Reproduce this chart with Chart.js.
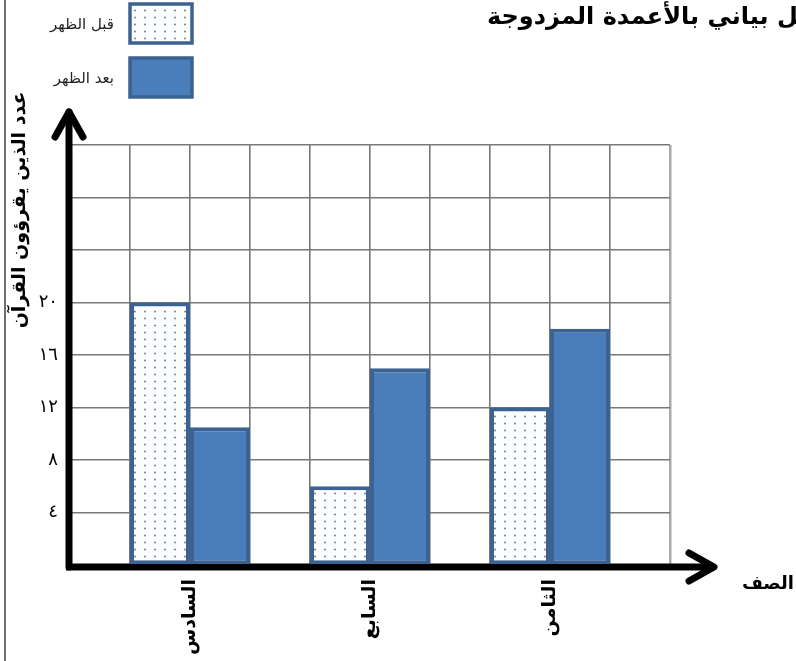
<!DOCTYPE html>
<html lang="ar">
<head>
<meta charset="utf-8">
<title>تمثيل بياني بالأعمدة المزدوجة</title>
<script src="https://cdn.jsdelivr.net/npm/chart.js@4/dist/chart.umd.min.js"></script>
<style>
  html, body { margin: 0; padding: 0; background: #ffffff; }
  #wrap { width: 796px; height: 661px; position: relative; overflow: hidden; }
  canvas { display: block; }
</style>
</head>
<body>
<div id="wrap"><canvas id="chart" width="796" height="661"></canvas></div>
<script>
// Grades (classes) and the number of pupils reading the Quran in each period
const categories = ['السادس', 'السابع', 'الثامن'];
const beforeNoon = [20, 6, 12];
const afterNoon = [10.5, 15, 18];
const seriesNames = ['قبل الظهر', 'بعد الظهر'];

// Y tick labels in Arabic-Indic digits
const yTickValues = [4, 8, 12, 16, 20];
const yTickLabels = ['٤', '٨', '١٢', '١٦', '٢٠'];

const titleText = 'تمثيل بياني بالأعمدة المزدوجة';
const yTitleText = 'عدد الذين يقرؤون القرآن';
const xTitleText = 'الصف';

// Each grade occupies three grid columns, centred on columns 2, 5, 8
const SLOT_FIRST = 2;
const SLOT_STEP = 3;
const slotOf = i => SLOT_FIRST + SLOT_STEP * i;

const FONT = '"DejaVu Sans", "Liberation Sans", Arial, sans-serif';
const BAR_FILL = '#4a7ebb';
const BAR_EDGE = '#3b6291';

// Dotted fill for the "before noon" bars
function dotPattern() {
  const tile = document.createElement('canvas');
  tile.width = 10; tile.height = 7;
  const t = tile.getContext('2d');
  t.fillStyle = '#fbfdff';
  t.fillRect(0, 0, 10, 7);
  t.fillStyle = '#8c8c8c';
  t.beginPath();
  t.arc(5, 3.5, 1.1, 0, Math.PI * 2);
  t.fill();
  return document.getElementById('chart').getContext('2d').createPattern(tile, 'repeat');
}

// Axis lines with arrow heads, drawn under the bars
const axisArrows = {
  id: 'axisArrows',
  beforeDatasetsDraw(chart) {
    const { ctx, chartArea: a } = chart;
    const x0 = a.left - 1;
    const y0 = a.bottom + 2;
    ctx.save();
    ctx.strokeStyle = '#000';
    ctx.lineWidth = 7;
    ctx.lineCap = 'round';
    ctx.lineJoin = 'round';
    // vertical axis
    const yTip = a.top - 33;
    ctx.beginPath();
    ctx.moveTo(x0, y0);
    ctx.lineTo(x0, yTip);
    ctx.stroke();
    ctx.beginPath();
    ctx.moveTo(x0 - 14, yTip + 25);
    ctx.lineTo(x0, yTip);
    ctx.lineTo(x0 + 14, yTip + 25);
    ctx.stroke();
    // horizontal axis
    const xTip = a.right + 44;
    ctx.lineCap = 'butt';
    ctx.beginPath();
    ctx.moveTo(x0 - 3, y0);
    ctx.lineTo(xTip, y0);
    ctx.stroke();
    ctx.lineCap = 'round';
    ctx.beginPath();
    ctx.moveTo(xTip - 25, y0 - 14);
    ctx.lineTo(xTip, y0);
    ctx.lineTo(xTip - 25, y0 + 14);
    ctx.stroke();
    ctx.restore();
  }
};

// Title, axis titles, legend and page frame
const decorations = {
  id: 'decorations',
  beforeDraw(chart) {
    const { ctx } = chart;
    ctx.save();
    ctx.fillStyle = '#ffffff';
    ctx.fillRect(0, 0, chart.width, chart.height);
    ctx.strokeStyle = '#6e6e6e';
    ctx.lineWidth = 2;
    ctx.beginPath();
    ctx.moveTo(5, 0);
    ctx.lineTo(5, chart.height);
    ctx.stroke();
    ctx.restore();
  },
  afterDraw(chart) {
    const { ctx, chartArea: a } = chart;
    ctx.save();
    // main title, running off the right edge
    ctx.fillStyle = '#000';
    ctx.font = 'bold 24px ' + FONT;
    ctx.textAlign = 'left';
    ctx.textBaseline = 'middle';
    ctx.fillText(titleText, 487, 18);

    // y-axis title
    ctx.save();
    ctx.translate(20, 210);
    ctx.rotate(-Math.PI / 2);
    ctx.font = 'bold 19px ' + FONT;
    ctx.textAlign = 'center';
    ctx.textBaseline = 'middle';
    ctx.fillText(yTitleText, 0, 0);
    ctx.restore();

    // x-axis title
    ctx.font = 'bold 18px ' + FONT;
    ctx.textAlign = 'right';
    ctx.textBaseline = 'middle';
    ctx.fillText(xTitleText, 794, a.bottom + 19);

    // legend: swatch on the right, label to its left
    chart.data.datasets.forEach((ds, i) => {
      const bx = 130, by = 4 + i * 54, bw = 62, bh = 39;
      ctx.fillStyle = ds.backgroundColor;
      ctx.fillRect(bx, by, bw, bh);
      ctx.strokeStyle = ds.borderColor;
      ctx.lineWidth = 3.5;
      ctx.strokeRect(bx, by, bw, bh);
      ctx.fillStyle = '#222';
      ctx.font = '15px ' + FONT;
      ctx.textAlign = 'right';
      ctx.textBaseline = 'middle';
      ctx.fillText(ds.label, 114, by + bh / 2 + 2);
    });
    ctx.restore();
  }
};

const pattern = dotPattern();

new Chart(document.getElementById('chart'), {
  type: 'bar',
  data: {
    datasets: [
      {
        label: seriesNames[0],
        data: beforeNoon.map((v, i) => ({ x: slotOf(i), y: v })),
        backgroundColor: pattern,
        borderColor: BAR_EDGE,
        borderWidth: 4,
        borderSkipped: false
      },
      {
        label: seriesNames[1],
        data: afterNoon.map((v, i) => ({ x: slotOf(i), y: v })),
        backgroundColor: BAR_FILL,
        borderColor: BAR_EDGE,
        borderWidth: 4,
        borderSkipped: false
      }
    ]
  },
  options: {
    responsive: false,
    animation: false,
    devicePixelRatio: 1,
    layout: { padding: { top: 145, right: 126, left: 0, bottom: 0 } },
    // the bar ruler measures one grid column; each bar spans one column
    datasets: { bar: { categoryPercentage: 2, barPercentage: 1 } },
    plugins: {
      legend: { display: false },
      title: { display: false },
      tooltip: { enabled: false }
    },
    scales: {
      x: {
        type: 'linear',
        min: 0,
        max: 10,
        offset: false,
        afterFit(scale) { scale.height = 96; },
        border: { display: false },
        grid: {
          offset: false,
          drawTicks: false,
          color: ctx => (ctx.tick && ctx.tick.value === 10 ? '#a9a9a9' : '#787878'),
          lineWidth: ctx => (ctx.tick && ctx.tick.value === 10 ? 2.5 : 1.6)
        },
        ticks: {
          stepSize: 1,
          autoSkip: false,
          minRotation: 90,
          maxRotation: 90,
          padding: 14,
          color: '#000',
          font: { family: FONT, size: 19, weight: 'bold' },
          callback(value) {
            const k = (value - SLOT_FIRST) / SLOT_STEP;
            return Number.isInteger(k) && k >= 0 && k < categories.length ? categories[k] : '';
          }
        }
      },
      y: {
        type: 'linear',
        min: 0,
        max: 32,
        afterFit(scale) { scale.width = 70; },
        border: { display: false },
        grid: {
          drawTicks: false,
          color: '#787878',
          lineWidth: 1.6
        },
        ticks: {
          stepSize: 4,
          padding: 12,
          color: '#000',
          font: { family: FONT, size: 18 },
          callback(value) {
            const k = yTickValues.indexOf(value);
            return k >= 0 ? yTickLabels[k] : '';
          }
        }
      }
    }
  },
  plugins: [decorations, axisArrows]
});
</script>
</body>
</html>
